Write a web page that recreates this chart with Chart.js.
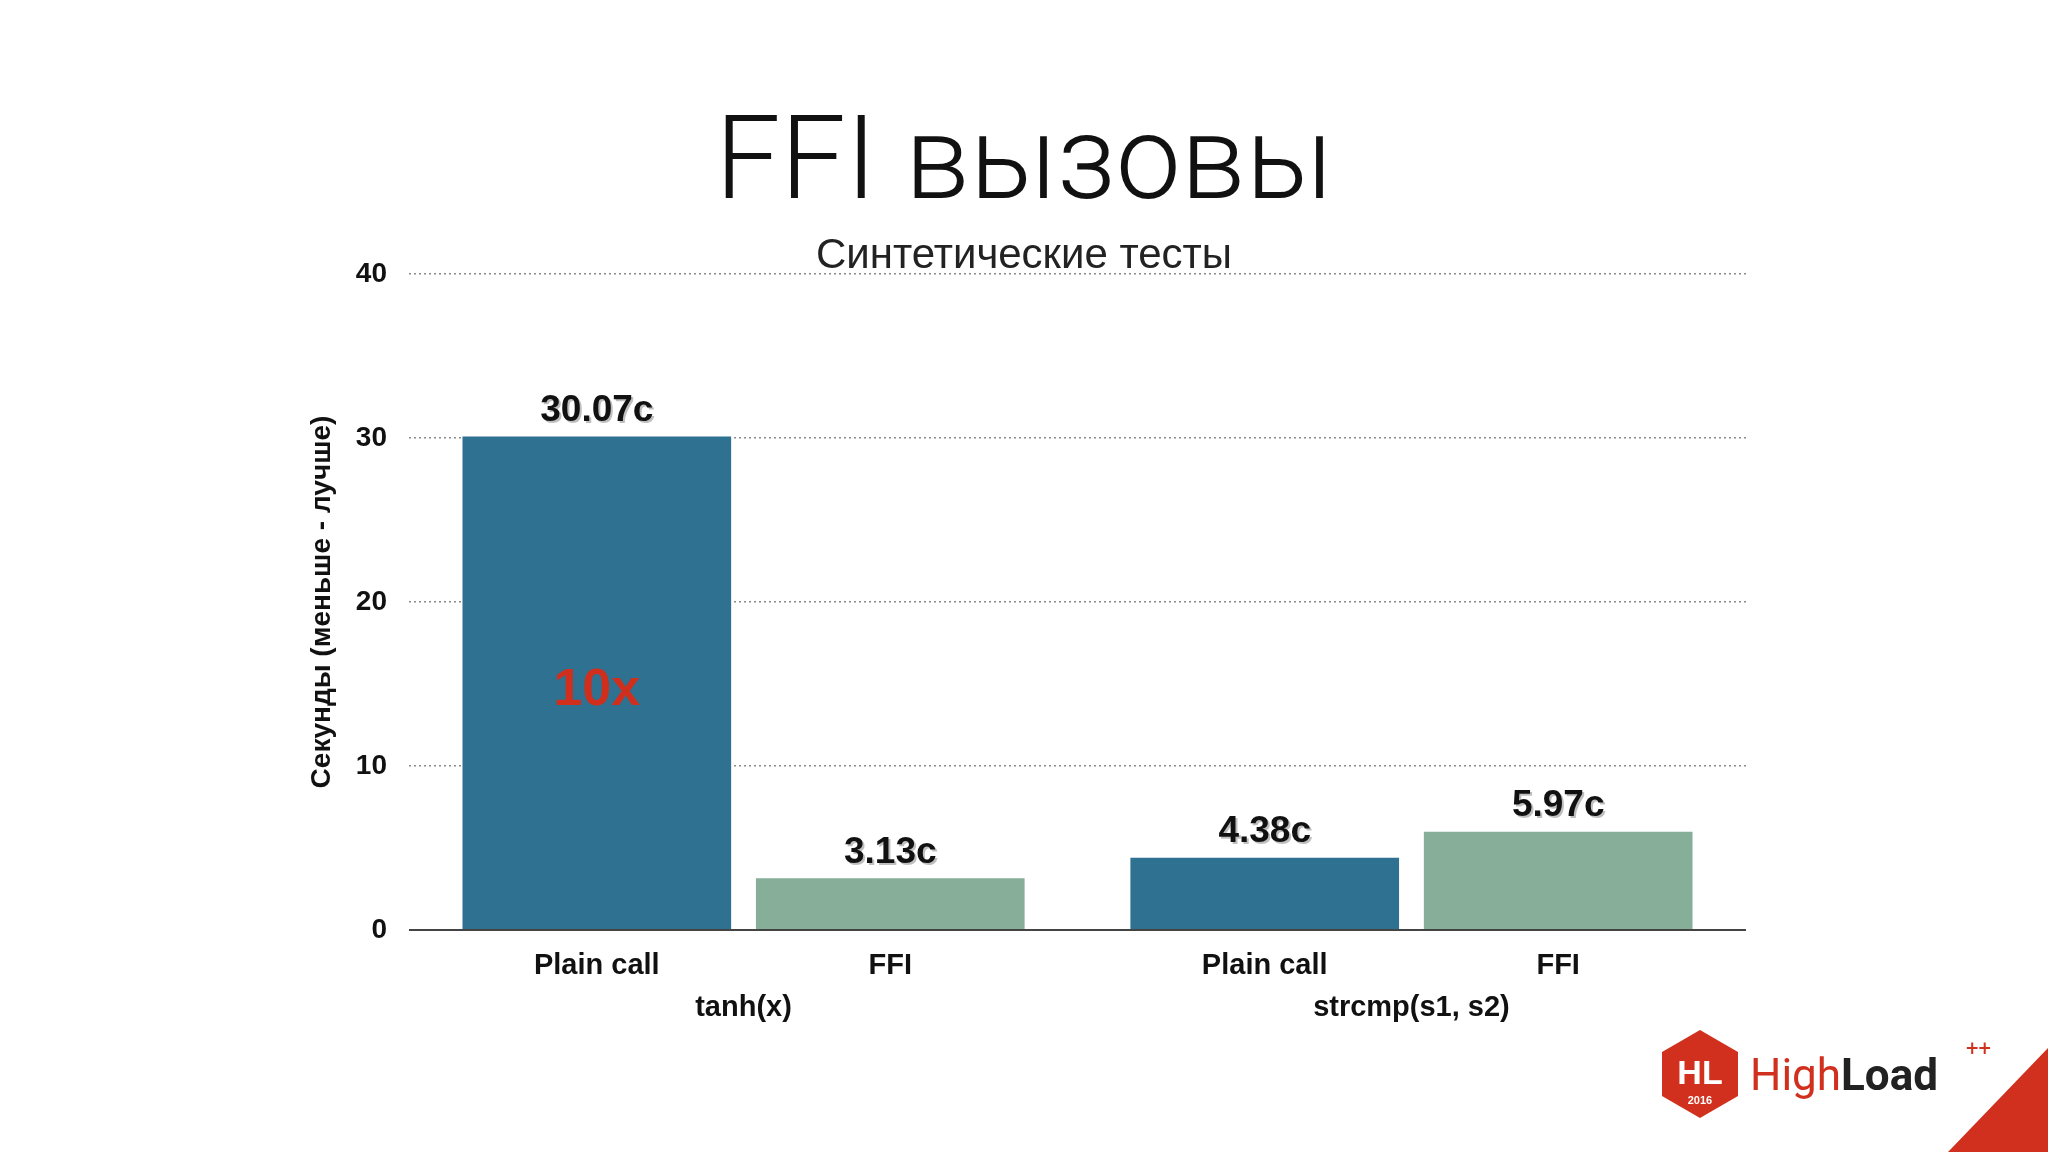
<!DOCTYPE html>
<html><head><meta charset="utf-8">
<script src="https://cdn.jsdelivr.net/npm/chart.js@4"></script>
<style>
html,body{margin:0;padding:0;background:#fff;width:2048px;height:1152px;overflow:hidden;font-family:"Liberation Sans",sans-serif}
#wrap{position:absolute;left:0;top:0;width:2048px;height:1152px}
#logo{position:absolute;left:1658px;top:1028px;width:390px;height:124px}
</style></head><body>
<div id="wrap"><canvas id="c" width="2048" height="1152"></canvas></div>
<svg id="logo" viewBox="0 0 390 124">
  <polygon points="42,2 80,24 80,68 42,90 4,68 4,24" fill="#d0301d"/>
  <text x="42" y="56" text-anchor="middle" font-family="Liberation Sans" font-weight="bold" font-size="34" fill="#fff">HL</text>
  <text x="42" y="76" text-anchor="middle" font-family="Liberation Sans" font-weight="bold" font-size="11" fill="#fff">2016</text>
  <text x="92" y="62" font-family="Roboto" font-size="44" fill="#d0301d">High<tspan fill="#222" font-weight="bold">Load</tspan></text>
  <text x="308" y="28" font-family="Roboto" font-size="22" fill="#d0301d">++</text>
  <polygon points="290,124 390,20 390,124" fill="#d0301d"/>
</svg>
<script>
const categories = ["Plain call","FFI","Plain call","FFI"];
const groups = ["tanh(x)","strcmp(s1, s2)"];
const values = [30.07, 3.13, 4.38, 5.97];
const valueLabels = ["30.07c","3.13c","4.38c","5.97c"];
const positions = [0, 1, 2.276, 3.276];
const yTicks = [0,10,20,30,40];
const colors = ["#2f7191","#86ae98","#2f7191","#86ae98"];

const FONT = "'Liberation Sans',Arimo,sans-serif";
const deco = {
  id:'deco',
  afterDraw(chart){
    const ctx=chart.ctx, x=chart.scales.x, y=chart.scales.y, a=chart.chartArea;
    ctx.save();
    ctx.fillStyle='#111'; ctx.textAlign='center'; ctx.textBaseline='alphabetic';
    ctx.font="300 116px Roboto,sans-serif"; ctx.fillText("FFI вызовы",1024,198);
    ctx.font="42px "+FONT; ctx.fillStyle='#222'; ctx.fillText("Синтетические тесты",1024,268);
    ctx.strokeStyle='#444'; ctx.lineWidth=2; ctx.beginPath();
    ctx.moveTo(a.left,y.getPixelForValue(0)); ctx.lineTo(a.right,y.getPixelForValue(0)); ctx.stroke();
    ctx.font="bold 37px "+FONT;
    values.forEach((v,i)=>{
      const px=x.getPixelForValue(positions[i]), py=y.getPixelForValue(v);
      ctx.fillStyle='rgba(0,0,0,0.25)'; ctx.fillText(valueLabels[i],px+2,py-14);
      ctx.fillStyle='#111'; ctx.fillText(valueLabels[i],px,py-16);
    });
    ctx.fillStyle='#111'; ctx.font="bold 29px "+FONT;
    categories.forEach((c,i)=>ctx.fillText(c,x.getPixelForValue(positions[i]),974));
    groups.forEach((g,i)=>ctx.fillText(g,x.getPixelForValue((positions[2*i]+positions[2*i+1])/2),1016));
    ctx.fillStyle='#cf2f1c'; ctx.font="bold 52px "+FONT;
    ctx.fillText("10x",x.getPixelForValue(positions[0]),y.getPixelForValue(13.7));
    ctx.translate(322,(a.top+a.bottom)/2); ctx.rotate(-Math.PI/2);
    ctx.fillStyle='#111'; ctx.font="bold 28px "+FONT; ctx.textBaseline='middle';
    ctx.fillText("Секунды (меньше - лучше)",0,0);
    ctx.restore();
  }
};
new Chart(document.getElementById('c'),{
  type:'bar',
  data:{datasets:[{data:values.map((v,i)=>({x:positions[i],y:v})),backgroundColor:colors,barThickness:268,borderWidth:0}]},
  options:{
    responsive:false,animation:false,
    layout:{padding:{top:274,bottom:222,right:302,left:0}},
    plugins:{legend:{display:false},tooltip:{enabled:false}},
    scales:{
      x:{type:'linear',offset:false,min:-0.64,max:3.916,display:false},
      y:{min:0,max:40,
        afterFit(s){s.width=409;},
        afterBuildTicks(s){s.ticks=yTicks.map(v=>({value:v}));},
        border:{display:false,dash:[2,3]},
        grid:{drawTicks:false,color:c=>c.tick&&c.tick.value===0?'rgba(0,0,0,0)':'#8a8a8a',lineWidth:1.5},
        ticks:{color:'#111',font:{size:28,weight:'bold',family:FONT},padding:22}
      }
    }
  },
  plugins:[deco]
});
</script>
</body></html>
